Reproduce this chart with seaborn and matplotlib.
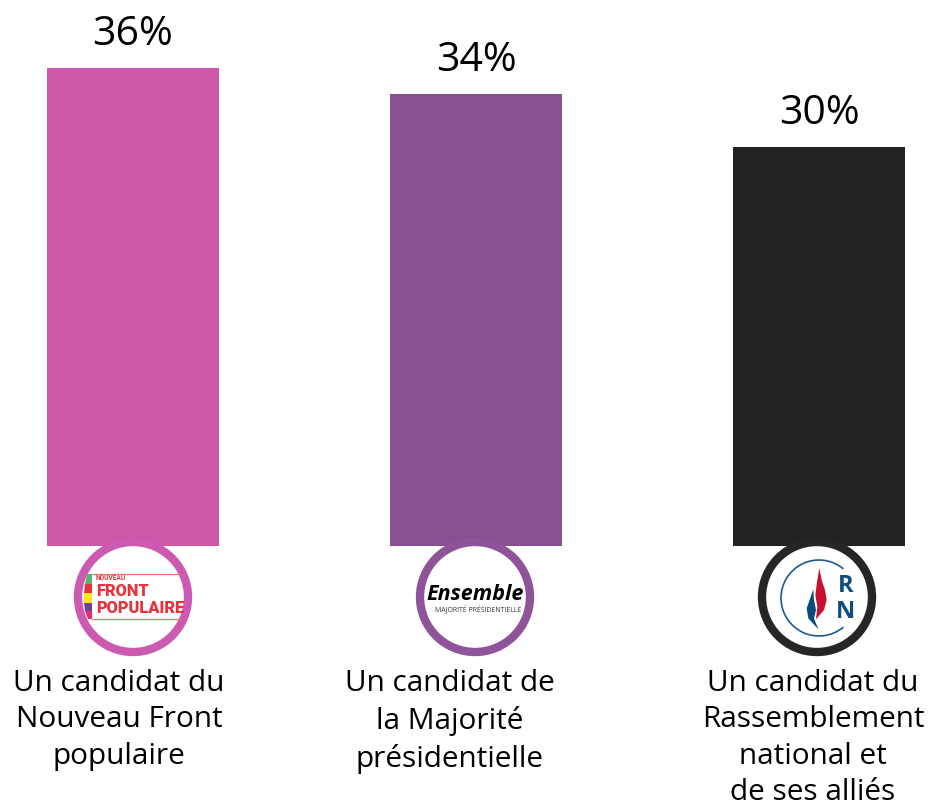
import matplotlib
matplotlib.use('Agg')
import matplotlib.pyplot as plt
from matplotlib.patches import Circle, Arc, Polygon
import seaborn as sns
import pandas as pd

# values
parties = ['Nouveau Front populaire', 'Majorité présidentielle', 'Rassemblement national']
values = [36, 34, 30]
bar_colors = ['#CD57A9', '#875091', '#222222']
ring_colors = ['#CC5AB1', '#8E5399', '#262626']
labels = ['Un candidat du\nNouveau Front\npopulaire',
          'Un candidat de\nla Majorité\nprésidentielle',
          'Un candidat du\nRassemblement\nnational et\nde ses alliés']

W, H = 931, 809
PX_PER_PCT = 13.29
BASE_Y = 546
FONT = 'Open Sans'

sns.set_theme(style='white')
plt.rcParams['font.family'] = [FONT, 'DejaVu Sans']

fig = plt.figure(figsize=(W / 100, H / 100), dpi=100)
ax = fig.add_axes([0, 0, 1, 1])

df = pd.DataFrame({'party': parties, 'value': values})
sns.barplot(data=df, x='party', y='value', hue='party', palette=bar_colors,
            width=0.5015, saturation=1, legend=False, linewidth=0, ax=ax)

# bars sit at pixels 133, 476, 819 with the baseline at y=546
ax.set_xlim(-133 / 343, (W - 133) / 343)
ax.set_ylim(-(H - BASE_Y) / PX_PER_PCT, BASE_Y / PX_PER_PCT)
ax.axis('off')

for cont in ax.containers:
    ax.bar_label(cont, fmt='%d%%', padding=9.3, fontsize=29.5, color='black')

# overlay in pixel coordinates for logos and captions
ov = fig.add_axes([0, 0, 1, 1], facecolor='none')
ov.set_xlim(0, W)
ov.set_ylim(H, 0)
ov.axis('off')


def ring(cx, color):
    ov.add_patch(Circle((cx, 597), 55, facecolor='white', edgecolor=color, linewidth=6, zorder=3))


# front populaire logo
ring(133, ring_colors[0])
stripes = [('#55B46E', 574, 584, 87, 85), ('#E8323C', 584, 593, 85, 83.5), ('#FFE619', 593, 603, 83.5, 83.5),
           ('#6E4196', 603, 611, 83.5, 85), ('#E62D6E', 611, 619, 85, 88)]
for c, y0, y1, x0, x1 in stripes:
    ov.add_patch(Polygon([(x0, y0), (92, y0), (92, y1), (x1, y1)], closed=True, color=c, lw=0, zorder=4))
ov.plot([92, 180], [573.5, 573.5], color='#F07070', lw=0.9, zorder=4)
ov.plot([92, 180], [618.5, 618.5], color='#F07070', lw=0.9, zorder=4)
ov.text(96, 578, 'NOUVEAU', color='#E8323C', fontsize=4.8, fontweight='bold',
        family='Roboto', va='center', zorder=5)
ov.text(96, 591, 'FRONT', color='#E8323C', fontsize=11.8, fontweight='black',
        family='Roboto', va='center', zorder=5)
ov.text(96, 608, 'POPULAIRE', color='#E8323C', fontsize=11.8, fontweight='black',
        family='Roboto', va='center', zorder=5)

# ensemble logo
ring(475, ring_colors[1])
ov.text(475, 594, 'Ensemble', color='black', fontsize=15.5, fontweight='bold', style='italic',
        family=FONT, ha='center', va='center', zorder=5)
ov.text(478.5, 609, 'MAJORITÉ PRÉSIDENTIELLE', color='#333333', fontsize=5,
        family=FONT, ha='center', va='center', zorder=5)

# rassemblement national logo
ring(817, ring_colors[2])
ov.add_patch(Arc((819, 598), 76, 76, theta1=50, theta2=310, color='#1F5A8C', lw=1.2, zorder=4))


def zoomed(pts):
    # points measured on a 3x crop of the logo
    return [(x / 3 + 740, y / 3 + 530) for x, y in pts]


red_flame = [(238, 115), (245, 150), (255, 180), (260, 210), (252, 240), (228, 268), (232, 230), (226, 195), (232, 150)]
blue_flame = [(220, 178), (200, 235), (205, 265), (235, 298), (222, 265), (228, 240), (222, 210)]
ov.add_patch(Polygon(zoomed(red_flame), closed=True, color='#C8102E', lw=0, zorder=5))
ov.add_patch(Polygon(zoomed(blue_flame), closed=True, color='#0B4A7E', lw=0, zorder=5))
ov.text(846, 586, 'R', color='#0F4C81', fontsize=17, fontweight='bold', family=FONT,
        ha='center', va='center', zorder=5)
ov.text(846, 612, 'N', color='#0F4C81', fontsize=17, fontweight='bold', family=FONT,
        ha='center', va='center', zorder=5)

# captions
for x, label in zip([119, 450, 813], labels):
    ov.text(x, 669, label, ha='center', va='top', fontsize=21.4, color='black', linespacing=1.34)

fig.savefig('out.png', dpi=100)
